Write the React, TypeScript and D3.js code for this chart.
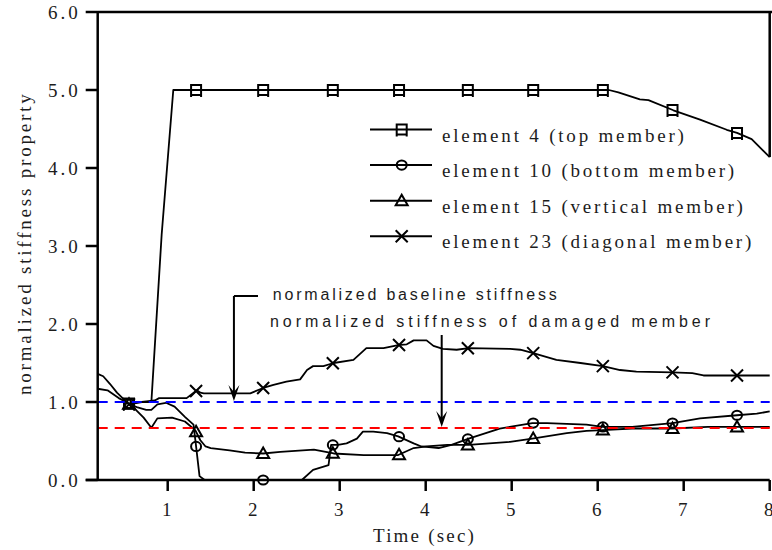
import * as d3 from "d3";

// time (sec), normalized stiffness
const element4: [number, number][] = [
  [0.55, 0.98], [0.65, 1.0], [0.81, 1.0], [0.93, 3.15], [1.065, 5.0], [6.13, 5.0],
  [6.24, 4.97], [6.49, 4.88], [6.59, 4.87], [6.88, 4.74], [7.19, 4.62], [7.5, 4.49],
  [7.62, 4.45], [7.79, 4.37], [8.0, 4.14],
];
const element10: [number, number][] = [
  [0.186, 1.17], [0.3, 1.15], [0.43, 1.05], [0.55, 0.98], [0.65, 0.93], [0.75, 0.9],
  [0.81, 0.9], [0.88, 0.97], [0.98, 0.99], [1.08, 0.94], [1.2, 0.81], [1.3, 0.71],
  [1.33, 0.43], [1.37, 0.05], [1.43, 0.0], [2.56, 0.0], [2.69, 0.13], [2.87, 0.19],
  [2.9, 0.45], [2.98, 0.45], [3.08, 0.47], [3.2, 0.53], [3.27, 0.62], [3.39, 0.62],
  [3.55, 0.6], [3.68, 0.56], [3.86, 0.47], [3.95, 0.43], [4.15, 0.41], [4.3, 0.45],
  [4.5, 0.53], [4.86, 0.66], [5.24, 0.73], [5.41, 0.73], [5.87, 0.71], [6.06, 0.68],
  [6.4, 0.68], [6.87, 0.73], [7.19, 0.79], [7.62, 0.83], [7.85, 0.85], [8.0, 0.88],
];
const element15: [number, number][] = [
  [0.186, 1.36], [0.25, 1.33], [0.33, 1.23], [0.41, 1.12], [0.55, 0.97], [0.63, 0.9],
  [0.72, 0.8], [0.81, 0.67], [0.88, 0.79], [1.05, 0.8], [1.2, 0.75], [1.32, 0.64],
  [1.38, 0.51], [1.44, 0.43], [1.5, 0.41], [1.72, 0.38], [1.9, 0.35], [2.11, 0.34],
  [2.31, 0.36], [2.7, 0.39], [2.93, 0.34], [3.28, 0.32], [3.68, 0.32], [3.86, 0.41],
  [4.01, 0.43], [4.25, 0.45], [4.5, 0.45], [4.98, 0.49], [5.24, 0.53], [5.64, 0.6],
  [5.87, 0.63], [6.06, 0.64], [6.4, 0.66], [6.87, 0.66], [7.28, 0.68], [7.62, 0.68],
  [8.0, 0.68],
];
const element23: [number, number][] = [
  [0.55, 0.97], [0.7, 1.0], [0.85, 1.02], [0.9, 1.05], [1.22, 1.05], [1.28, 1.1],
  [1.34, 1.15], [1.38, 1.12], [1.42, 1.11], [1.96, 1.11], [2.11, 1.18], [2.23, 1.22],
  [2.38, 1.26], [2.54, 1.29], [2.62, 1.41], [2.69, 1.46], [2.81, 1.46], [2.93, 1.5],
  [3.16, 1.54], [3.24, 1.62], [3.31, 1.69], [3.51, 1.69], [3.68, 1.73], [3.78, 1.74],
  [3.86, 1.79], [4.01, 1.79], [4.09, 1.72], [4.2, 1.68], [4.36, 1.67], [4.5, 1.69],
  [4.98, 1.68], [5.1, 1.67], [5.24, 1.63], [5.4, 1.58], [5.52, 1.54], [5.8, 1.5],
  [6.06, 1.46], [6.26, 1.41], [6.45, 1.39], [6.87, 1.38], [7.1, 1.37], [7.23, 1.34],
  [7.62, 1.34], [8.0, 1.34],
];

const markerTimes = [0.55, 1.33, 2.11, 2.92, 3.69, 4.49, 5.25, 6.06, 6.87, 7.62];
const seriesNames = [
  "element 4 (top member)",
  "element 10 (bottom member)",
  "element 15 (vertical member)",
  "element 23 (diagonal member)",
];
const seriesMarkers = ["square", "circle", "triangle", "cross"];
const xTicks = [1, 2, 3, 4, 5, 6, 7, 8];
const yTicks = [0, 1, 2, 3, 4, 5, 6];
const baselineLevel = 1.0;
const damagedLevel = 0.667;

const allSeries = [element4, element10, element15, element23];

const W = 772;
const H = 550;
const x = d3.scaleLinear().domain([0.186, 8]).range([97.7, 769.7]);
const y = d3.scaleLinear().domain([0, 6]).range([480, 12]);

const serif = "Liberation Serif, Times New Roman, serif";
const sans = "Liberation Sans, Arial, sans-serif";
const ink = "#1c1c1c";

const valueAt = (s: [number, number][], t: number) => {
  const i = d3.bisector((d: [number, number]) => d[0]).left(s, t);
  if (i <= 0) return s[0][1];
  if (i >= s.length) return s[s.length - 1][1];
  const [t0, v0] = s[i - 1];
  const [t1, v1] = s[i];
  return v0 + ((v1 - v0) * (t - t0)) / (t1 - t0);
};

const markerPath = (kind: string) => {
  switch (kind) {
    case "square":
      return "M-5,-5H5V5H-5Z M-5,5V7 M5,5V7";
    case "circle":
      return "M-5,0A5,4.6 0 1,0 5,0A5,4.6 0 1,0 -5,0Z";
    case "triangle":
      return "M0,-6L6,4.5H-6Z";
    default:
      return "M-6,-6L6,6M-6,6L6,-6";
  }
};

const Arrow = ({ x0, y0, y1, hx }: { x0: number; y0: number; y1: number; hx?: number }) => (
  <g>
    {hx !== undefined && <line x1={x0} y1={y0} x2={hx} y2={y0} stroke="#000" strokeWidth={2} />}
    <line x1={x0} y1={y0} x2={x0} y2={y1 - 8} stroke="#000" strokeWidth={2} />
    <path d={`M${x0},${y1}L${x0 - 5.5},${y1 - 16}L${x0},${y1 - 9}L${x0 + 5.5},${y1 - 16}Z`} fill="#000" />
  </g>
);

const Chart = () => {
  const line = d3
    .line<[number, number]>()
    .x((d) => x(d[0]))
    .y((d) => y(d[1]));

  const [x0, x1] = x.range();
  const [yb, yt] = y.range();

  return (
    <svg width={W} height={H} style={{ display: "block" }}>
      <rect width={W} height={H} fill="#fff" />

      {/* series */}
      {allSeries.map((s, i) => (
        <path key={i} d={line(s) ?? ""} fill="none" stroke="#000" strokeWidth={1.8} strokeLinejoin="round" />
      ))}
      {allSeries.map((s, i) =>
        markerTimes.map((t) => (
          <path
            key={`${i}-${t}`}
            transform={`translate(${x(t)},${y(valueAt(s, t))})`}
            d={markerPath(seriesMarkers[i])}
            fill="none"
            stroke="#000"
            strokeWidth={2}
          />
        ))
      )}

      {/* reference levels */}
      <line x1={x0} x2={x1} y1={y(baselineLevel)} y2={y(baselineLevel)} stroke="#0000ff" strokeWidth={2} strokeDasharray="10 7" />
      <line x1={x0} x2={x1} y1={y(damagedLevel)} y2={y(damagedLevel)} stroke="#ff0000" strokeWidth={2} strokeDasharray="10 7" />

      {/* frame and axes */}
      <line x1={x0} x2={W} y1={yt} y2={yt} stroke="#000" strokeWidth={2.5} />
      <line x1={x1} x2={x1} y1={yt} y2={y(element4[element4.length - 1][1])} stroke="#000" strokeWidth={2.5} />
      <line x1={x0} x2={x0} y1={yt - 1} y2={yb + 1} stroke="#000" strokeWidth={2.5} />
      <line x1={x0 - 12} x2={x1} y1={yb} y2={yb} stroke="#000" strokeWidth={2.5} />
      {yTicks.map((v) => (
        <g key={v}>
          <line x1={x0 - 12} x2={x0} y1={y(v)} y2={y(v)} stroke="#000" strokeWidth={2.5} />
          <text x={x0 - 17} y={y(v) + 6.5} textAnchor="end" style={{ fontFamily: serif }} fontSize={19} letterSpacing={3} fill={ink}>
            {v.toFixed(1)}
          </text>
        </g>
      ))}
      {xTicks.map((t) => (
        <g key={t}>
          <line x1={x(t)} x2={x(t)} y1={yb} y2={yb + 11} stroke="#000" strokeWidth={2.5} />
          <text x={x(t) - 1} y={516} textAnchor="middle" style={{ fontFamily: serif }} fontSize={19} fill={ink}>
            {t}
          </text>
        </g>
      ))}
      <text x={373} y={542} style={{ fontFamily: serif }} fontSize={19} letterSpacing={2.2} fill={ink}>
        Time (sec)
      </text>
      <text
        transform={`translate(31,${395}) rotate(-90)`}
        style={{ fontFamily: serif }}
        fontSize={19}
        letterSpacing={2.8}
        fill={ink}
      >
        normalized stiffness property
      </text>

      {/* legend */}
      {seriesNames.map((name, i) => {
        const ly = 129.5 + i * 35.6;
        return (
          <g key={name}>
            <line x1={370} x2={432} y1={ly} y2={ly} stroke="#000" strokeWidth={2} />
            <path transform={`translate(401.7,${ly})`} d={markerPath(seriesMarkers[i])} fill="none" stroke="#000" strokeWidth={2} />
            <text x={442} y={ly + 12} style={{ fontFamily: serif }} fontSize={19} letterSpacing={2.8} fill={ink}>
              {name}
            </text>
          </g>
        );
      })}

      {/* annotations */}
      <Arrow x0={x(1.77)} y0={296} y1={y(baselineLevel) - 1} hx={258} />
      <text x={272.7} y={300} style={{ fontFamily: sans }} fontSize={16} textLength={284} lengthAdjust="spacing" fill={ink}>
        normalized baseline stiffness
      </text>
      <Arrow x0={x(4.186)} y0={335} y1={y(damagedLevel) - 1} />
      <text x={270} y={327.3} style={{ fontFamily: sans }} fontSize={16} textLength={440} lengthAdjust="spacing" fill={ink}>
        normalized stiffness of damaged member
      </text>
    </svg>
  );
};

export default function App() {
  return (
    <div style={{ position: "absolute", left: 0, top: 0 }}>
      <Chart />
    </div>
  );
}
